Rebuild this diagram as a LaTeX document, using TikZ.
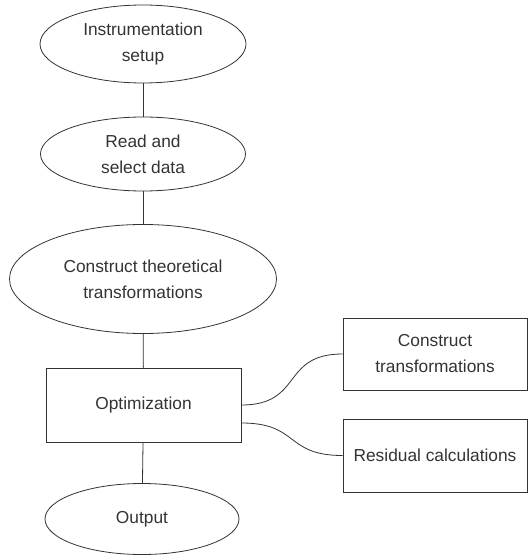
\documentclass[tikz,border=0pt]{standalone}
\usepackage{fontspec}
\setmainfont{Liberation Sans}
\usepackage{xcolor}
\usepackage{tikz}
\usetikzlibrary{shapes.geometric}
\colorlet{calink}{black!80}
\tikzset{
  calstage/.style={
    draw=calink,
    text=calink,
    line width=0.6pt,
    align=center,
    inner sep=0pt,
    font=\fontsize{13}{19.5}\selectfont
  },
  caloval/.style={calstage,ellipse},
  calbox/.style={calstage,rectangle},
  callink/.style={draw=calink,line width=0.6pt},
  calcurve/.style={callink,looseness=1.4}
}

\begin{document}
\begin{tikzpicture}[x=0.75pt,y=-0.75pt]
  \useasboundingbox (0,0) rectangle (528,556);
  \node[caloval,minimum width=206*0.75pt,minimum height=78*0.75pt] (setup) at (143,44)
    {Instrumentation\\setup};
  \node[caloval,minimum width=205*0.75pt,minimum height=74*0.75pt] (read) at (143,154)
    {Read and\\select data};
  \node[caloval,minimum width=267*0.75pt,minimum height=109*0.75pt] (theory) at (143,279)
    {Construct theoretical\\transformations};
  \node[calbox,minimum width=195*0.75pt,minimum height=74*0.75pt] (opt) at (143.5,405)
    {Optimization};
  \node[caloval,minimum width=194*0.75pt,minimum height=71*0.75pt] (out) at (142,519)
    {Output};
  \node[calbox,minimum width=184*0.75pt,minimum height=72*0.75pt] (trans) at (435,354)
    {Construct\\transformations};
  \node[calbox,minimum width=184*0.75pt,minimum height=73*0.75pt] (resid) at (435,455.5)
    {Residual calculations};

  \draw[callink] (setup) -- (read);
  \draw[callink] (read) -- (theory);
  \draw[callink] (theory) -- (opt);
  \draw[callink] (opt) -- (out);
  \draw[calcurve] (opt.east) to[out=0,in=180] (trans.west);
  \draw[calcurve] ([yshift=-18*0.75pt]opt.east) to[out=0,in=180] (resid.west);
\end{tikzpicture}
\end{document}
